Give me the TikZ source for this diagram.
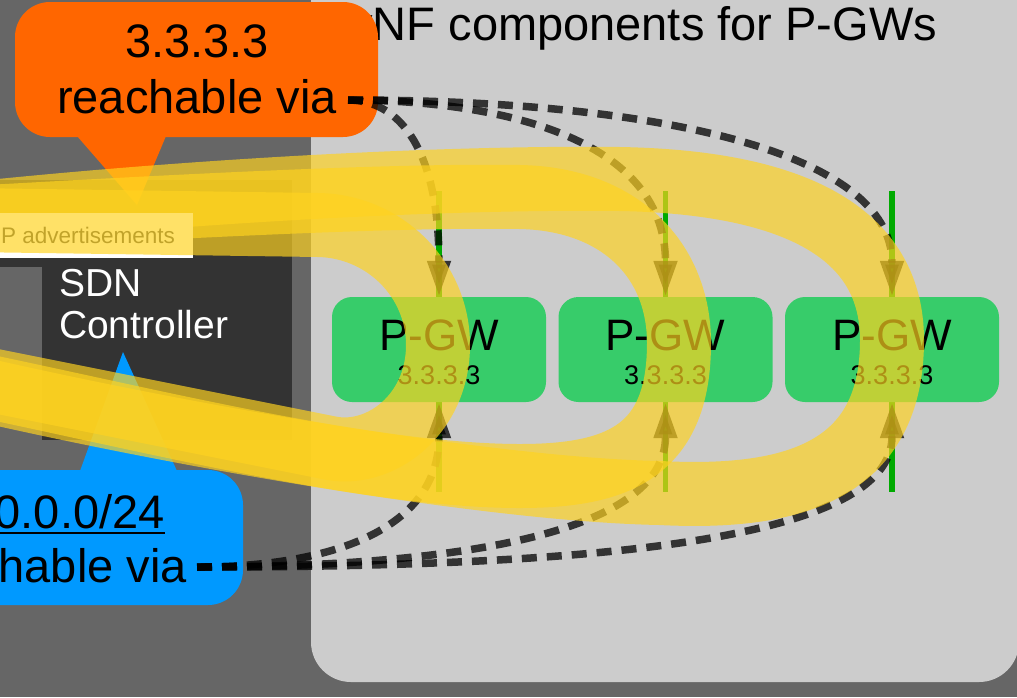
\documentclass[tikz,border=0pt]{standalone}
\usepackage{fontspec}
\setmainfont{Liberation Sans}
\usetikzlibrary{arrows.meta}
\definecolor{bggray}{HTML}{666666}
\definecolor{panelgray}{HTML}{CCCCCC}
\definecolor{darkbox}{HTML}{333333}
\definecolor{calloutorange}{HTML}{FF6600}
\definecolor{calloutblue}{HTML}{0099FF}
\definecolor{gwgreen}{HTML}{37CC6A}
\definecolor{linegreen}{HTML}{00AA00}
\definecolor{bandyellow}{HTML}{FFD320}
\definecolor{labelgray}{HTML}{404040}
\tikzset{
  txt/.style={inner sep=0pt, outer sep=0pt},
  bigtxt/.style={txt, font=\fontsize{47}{56}\selectfont},
  gwbox/.style={fill=gwgreen, rounded corners=20pt, minimum width=214pt, minimum height=105pt, inner sep=0pt, draw=none},
  gwname/.style={txt, font=\fontsize{44}{50}\selectfont, anchor=base},
  gwaddr/.style={txt, font=\fontsize{27}{30}\selectfont, anchor=base},
  gline/.style={draw=linegreen, line width=5.5pt},
  yband/.style={draw=bandyellow, line width=64pt, draw opacity=0.68, line cap=butt, line join=round},
  dlink/.style={draw=black, opacity=0.75, line width=7.5pt, dash pattern=on 15pt off 10pt, -{Triangle[length=36pt,width=22pt]}}
}
\begin{document}
\begin{tikzpicture}[x=1pt,y=-1pt]
\useasboundingbox (0,0) rectangle (1017,697);
\clip (0,0) rectangle (1017,697);
% background
\fill[bggray] (0,0) rectangle (1017,697);
% panel
\fill[panelgray, rounded corners=40pt] (311,-60) rectangle (1019,682);
\node[bigtxt, anchor=base east] (title) at (937,40) {vNF components for P-GWs};
% SDN controller box
\fill[darkbox] (42,180) rectangle (292,440);
\fill[darkbox] (-10,180) rectangle (42,267);
\node[txt, font=\fontsize{39}{42}\selectfont, text=white, anchor=base west] (sdn1) at (59,296) {SDN};
\node[txt, font=\fontsize{39}{42}\selectfont, text=white, anchor=base west] (sdn2) at (59,338) {Controller};
% green lines
\draw[gline] (439,191) -- (439,492);
\draw[gline] (665.5,191) -- (665.5,492);
\draw[gline] (892,191) -- (892,492);
% P-GW boxes
\node[gwbox] (pgw1) at (439,349.5) {};
\node[gwbox] (pgw2) at (665.5,349.5) {};
\node[gwbox] (pgw3) at (892,349.5) {};
\node[gwname] (n1) at (439,350) {P-GW};
\node[gwname] (n2) at (665.5,350) {P-GW};
\node[gwname] (n3) at (892,350) {P-GW};
\node[gwaddr] (a1) at (439,384) {3.3.3.3};
\node[gwaddr] (a2) at (665.5,384) {3.3.3.3};
\node[gwaddr] (a3) at (892,384) {3.3.3.3};
% orange callout
\fill[calloutorange, rounded corners=35pt] (15,2) rectangle (378,137);
\fill[calloutorange] (77,136) -- (166,136) -- (137,205) -- cycle;
\node[bigtxt, anchor=base] (orA) at (197,57) {3.3.3.3};
\node[bigtxt, anchor=base] (orB) at (197,113) {reachable via};
% blue callout
\fill[calloutblue, rounded corners=35pt] (-149,470) rectangle (243,605);
\fill[calloutblue] (80,471) -- (177,471) -- (123,352) -- cycle;
\node[bigtxt, anchor=base] (blA) at (47,528) {10.0.0.0/24};
\draw[line width=2pt] ([yshift=-5pt]blA.base west) -- ([yshift=-5pt]blA.base east);
\node[bigtxt, anchor=base] (blB) at (47,582) {reachable via};
% dashed reachability arrows
\coordinate (orgA) at (348,100);
\coordinate (orgB) at (197,567);
\draw[dlink] (orgA) .. controls (400,100) and (pgw1.north |- 0,150) .. (pgw1.north);
\draw[dlink] (orgA) .. controls (480,100) and (pgw2.north |- 0,130) .. (pgw2.north);
\draw[dlink] (orgA) .. controls (650,100) and (pgw3.north |- 0,150) .. (pgw3.north);
\draw[dlink] (orgB) .. controls (330,567) and (pgw1.south |- 0,530) .. (pgw1.south);
\draw[dlink] (orgB) .. controls (450,567) and (pgw2.south |- 0,535) .. (pgw2.south);
\draw[dlink] (orgB) .. controls (600,567) and (pgw3.south |- 0,540) .. (pgw3.south);
% yellow advertisement loops (3 and 2)
\draw[yband] (-30,214) .. controls (200,190) and (450,177) .. (620,179) .. controls (780,182) and (892,225) .. (892,340) .. controls (892,470) and (795,500) .. (660,493) .. controls (500,490) and (200,440) .. (-30,387);
\draw[yband] (-30,218) .. controls (200,205) and (400,195) .. (520,197) .. controls (620,199) and (679,260) .. (679,343) .. controls (679,450) and (620,476) .. (520,476) .. controls (370,476) and (150,420) .. (-30,383);
% BGP label
\fill[white] (-10,213) rectangle (193,258);
\node[txt, font=\fontsize{22.5}{26}\selectfont, text=labelgray, anchor=base east] (bgp) at (175,243) {BGP advertisements};
% loop 1
\draw[yband] (-30,220) -- (318,225) .. controls (384,226) and (438,279) .. (438,345) .. controls (438,415) and (380,458) .. (330,448) -- (-30,376);
\end{tikzpicture}
\end{document}
